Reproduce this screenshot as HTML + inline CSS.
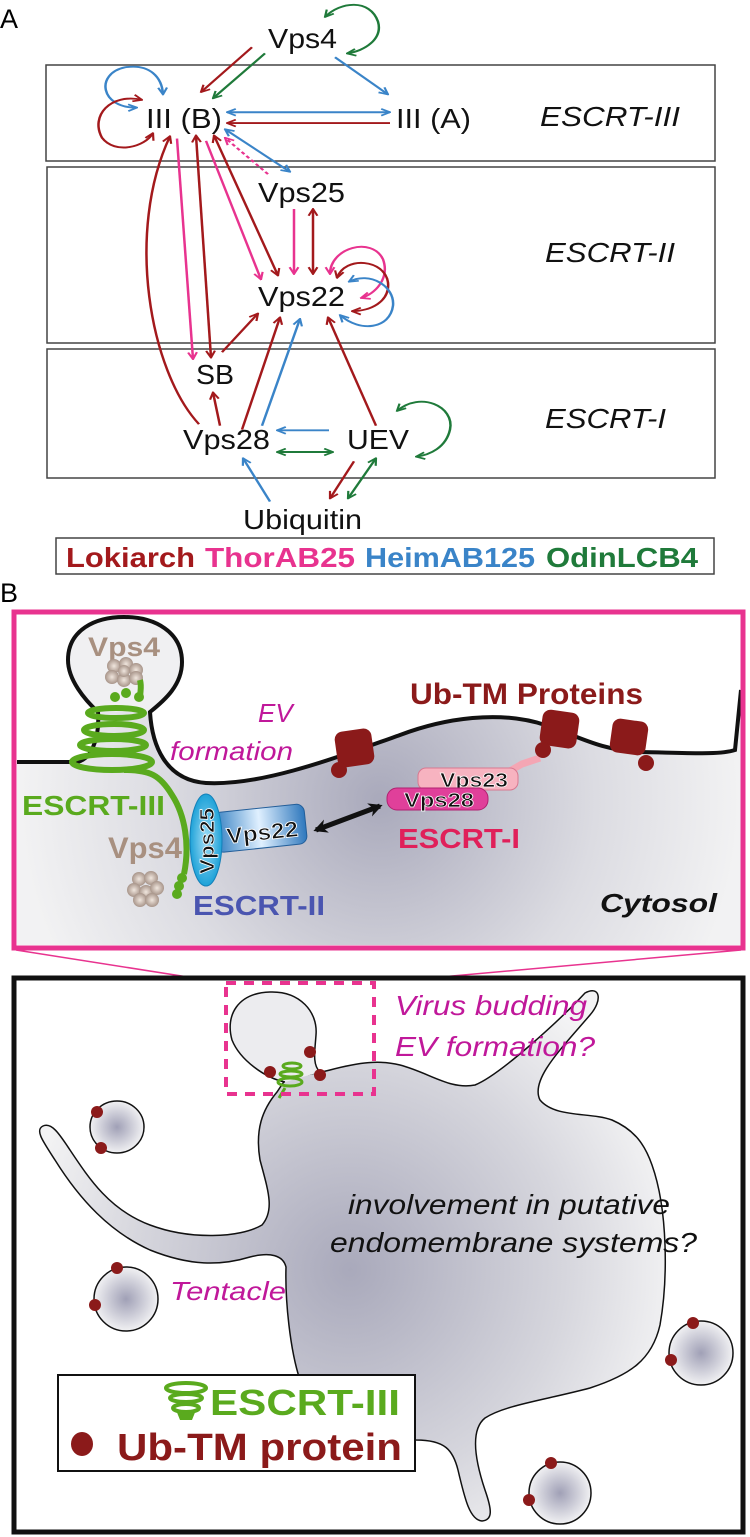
<!DOCTYPE html>
<html><head><meta charset="utf-8"><style>
html,body{margin:0;padding:0;background:#fff}
svg{display:block}
text{font-family:"Liberation Sans",Arial,sans-serif}
</style></head><body>
<svg width="750" height="1537" viewBox="0 0 750 1537" xmlns="http://www.w3.org/2000/svg">
<defs>
<marker id="mr" viewBox="0 0 10 10" refX="9" refY="5" markerWidth="11" markerHeight="11" markerUnits="userSpaceOnUse" orient="auto-start-reverse"><path d="M1,1 L9,5 L1,9" fill="none" stroke="#a3191c" stroke-width="2"/></marker>
<marker id="mp" viewBox="0 0 10 10" refX="9" refY="5" markerWidth="11" markerHeight="11" markerUnits="userSpaceOnUse" orient="auto-start-reverse"><path d="M1,1 L9,5 L1,9" fill="none" stroke="#e8338f" stroke-width="2"/></marker>
<marker id="mb" viewBox="0 0 10 10" refX="9" refY="5" markerWidth="11" markerHeight="11" markerUnits="userSpaceOnUse" orient="auto-start-reverse"><path d="M1,1 L9,5 L1,9" fill="none" stroke="#3a84c8" stroke-width="2"/></marker>
<marker id="mg" viewBox="0 0 10 10" refX="9" refY="5" markerWidth="11" markerHeight="11" markerUnits="userSpaceOnUse" orient="auto-start-reverse"><path d="M1,1 L9,5 L1,9" fill="none" stroke="#1f7a3a" stroke-width="2"/></marker>
<marker id="mk" viewBox="0 0 10 10" refX="8" refY="5" markerWidth="14" markerHeight="14" markerUnits="userSpaceOnUse" orient="auto-start-reverse"><path d="M0,0 L10,5 L0,10 L3,5Z" fill="#111"/></marker>
<radialGradient id="cyt" cx="380" cy="800" r="360" gradientUnits="userSpaceOnUse"><stop offset="0" stop-color="#a9a9bb"/><stop offset="0.6" stop-color="#dcdce2"/><stop offset="1" stop-color="#f2f2f3"/></radialGradient>
<radialGradient id="cell" cx="350" cy="1270" r="330" gradientUnits="userSpaceOnUse"><stop offset="0" stop-color="#a9a9bb"/><stop offset="0.65" stop-color="#d6d6dd"/><stop offset="1" stop-color="#f3f3f4"/></radialGradient>
<radialGradient id="ves"><stop offset="0" stop-color="#a0a0b6"/><stop offset="1" stop-color="#f1f1f3"/></radialGradient>
<linearGradient id="blue22" x1="0" y1="0" x2="1" y2="0"><stop offset="0" stop-color="#2f7cc0"/><stop offset="0.5" stop-color="#e0f0ff"/><stop offset="1" stop-color="#2f78bd"/></linearGradient>
<radialGradient id="blue25"><stop offset="0" stop-color="#9fdcf5"/><stop offset="1" stop-color="#1ea2d8"/></radialGradient>
<radialGradient id="hex"><stop offset="0" stop-color="#f0e6de"/><stop offset="1" stop-color="#a8958a"/></radialGradient>
</defs>

<!-- ===== PART A ===== -->
<text x="0" y="28" font-size="27">A</text>
<g fill="none" stroke="#444" stroke-width="1.5">
<rect x="46" y="65" width="669" height="96"/>
<rect x="47" y="167" width="668" height="176"/>
<rect x="47" y="349" width="668" height="129"/>
<rect x="56" y="538" width="658" height="36"/>
</g>
<g font-size="28" fill="#111">
<text x="268" y="48" textLength="69" lengthAdjust="spacingAndGlyphs">Vps4</text>
<text x="146" y="128" textLength="76" lengthAdjust="spacingAndGlyphs">III (B)</text>
<text x="396" y="128" textLength="75" lengthAdjust="spacingAndGlyphs">III (A)</text>
<text x="258" y="202" textLength="87" lengthAdjust="spacingAndGlyphs">Vps25</text>
<text x="258" y="306" textLength="87" lengthAdjust="spacingAndGlyphs">Vps22</text>
<text x="196" y="384" textLength="38" lengthAdjust="spacingAndGlyphs">SB</text>
<text x="183" y="449" textLength="87" lengthAdjust="spacingAndGlyphs">Vps28</text>
<text x="347" y="449" textLength="62" lengthAdjust="spacingAndGlyphs">UEV</text>
<text x="243" y="529" textLength="119" lengthAdjust="spacingAndGlyphs">Ubiquitin</text>
</g>
<g font-size="28" font-style="italic" fill="#111">
<text x="540" y="126" textLength="140" lengthAdjust="spacingAndGlyphs">ESCRT-III</text>
<text x="545" y="262" textLength="130" lengthAdjust="spacingAndGlyphs">ESCRT-II</text>
<text x="545" y="428" textLength="121" lengthAdjust="spacingAndGlyphs">ESCRT-I</text>
</g>
<g font-size="28" font-weight="bold">
<text x="66" y="567" fill="#a3191c" textLength="129" lengthAdjust="spacingAndGlyphs">Lokiarch</text>
<text x="205" y="567" fill="#e8338f" textLength="150" lengthAdjust="spacingAndGlyphs">ThorAB25</text>
<text x="365" y="567" fill="#3a84c8" textLength="170" lengthAdjust="spacingAndGlyphs">HeimAB125</text>
<text x="546" y="567" fill="#1f7a3a" textLength="152" lengthAdjust="spacingAndGlyphs">OdinLCB4</text>
</g>

<g transform="scale(1,0.774)" fill="none" stroke-width="2.5">
<path d="M325,22 C340,2 370,-2 378,28 C383,50 365,66 347,69" stroke="#1f7a3a" marker-start="url(#mg)" marker-end="url(#mg)"/>
<line x1="252" y1="61" x2="201" y2="119" stroke="#a3191c" marker-end="url(#mr)"/>
<line x1="265" y1="69" x2="213" y2="127" stroke="#1f7a3a" marker-end="url(#mg)"/>
<line x1="335" y1="74" x2="388" y2="122" stroke="#3a84c8" marker-end="url(#mb)"/>
<line x1="227" y1="145" x2="390" y2="145" stroke="#3a84c8" marker-start="url(#mb)" marker-end="url(#mb)"/>
<line x1="390" y1="159" x2="227" y2="159" stroke="#a3191c" marker-end="url(#mr)"/>
<path d="M137,139 C100,140 95,95 125,87 C150,82 162,100 163,122" stroke="#3a84c8" marker-start="url(#mb)" marker-end="url(#mb)"/>
<path d="M142,129 C110,120 90,150 102,178 C115,200 145,190 153,172" stroke="#a3191c" marker-start="url(#mr)" marker-end="url(#mr)"/>
<line x1="225" y1="167" x2="290" y2="222" stroke="#3a84c8" marker-start="url(#mb)" marker-end="url(#mb)"/>
<line x1="268" y1="225" x2="225" y2="178" stroke="#e8338f" stroke-dasharray="4,3" marker-end="url(#mp)"/>
<line x1="177" y1="179" x2="193" y2="464" stroke="#e8338f" marker-end="url(#mp)"/>
<line x1="196" y1="175" x2="211" y2="462" stroke="#a3191c" marker-start="url(#mr)" marker-end="url(#mr)"/>
<line x1="206" y1="182" x2="261" y2="361" stroke="#e8338f" marker-end="url(#mp)"/>
<line x1="214" y1="175" x2="278" y2="356" stroke="#a3191c" marker-start="url(#mr)" marker-end="url(#mr)"/>
<path d="M199,548 C150,480 125,300 170,176" stroke="#a3191c" marker-end="url(#mr)"/>
<line x1="294" y1="270" x2="294" y2="354" stroke="#e8338f" marker-end="url(#mp)"/>
<line x1="313" y1="270" x2="313" y2="354" stroke="#a3191c" marker-start="url(#mr)" marker-end="url(#mr)"/>
<path d="M330,354 C330,320 372,305 383,335 C390,360 375,380 361,385" stroke="#e8338f" marker-start="url(#mp)" marker-end="url(#mp)"/>
<path d="M337,359 C345,330 385,335 388,365 C390,390 370,402 352,402" stroke="#a3191c" marker-start="url(#mr)" marker-end="url(#mr)"/>
<path d="M349,364 C370,350 395,370 393,395 C390,425 360,430 340,407" stroke="#3a84c8" marker-start="url(#mb)" marker-end="url(#mb)"/>
<line x1="222" y1="455" x2="258" y2="405" stroke="#a3191c" marker-end="url(#mr)"/>
<line x1="242" y1="555" x2="280" y2="410" stroke="#a3191c" marker-end="url(#mr)"/>
<line x1="262" y1="550" x2="300" y2="412" stroke="#3a84c8" marker-end="url(#mb)"/>
<line x1="376" y1="550" x2="328" y2="410" stroke="#a3191c" marker-end="url(#mr)"/>
<line x1="220" y1="550" x2="213" y2="507" stroke="#a3191c" marker-end="url(#mr)"/>
<line x1="329" y1="556" x2="277" y2="556" stroke="#3a84c8" marker-end="url(#mb)"/>
<line x1="277" y1="584" x2="333" y2="584" stroke="#1f7a3a" marker-start="url(#mg)" marker-end="url(#mg)"/>
<path d="M397,531 C420,505 455,525 450,555 C446,578 430,588 416,590" stroke="#1f7a3a" marker-start="url(#mg)" marker-end="url(#mg)"/>
<line x1="270" y1="648" x2="243" y2="592" stroke="#3a84c8" marker-end="url(#mb)"/>
<line x1="354" y1="596" x2="330" y2="644" stroke="#a3191c" marker-end="url(#mr)"/>
<line x1="376" y1="592" x2="348" y2="644" stroke="#1f7a3a" marker-start="url(#mg)" marker-end="url(#mg)"/>
</g>

<!-- ===== PART B ===== -->
<text x="0" y="602" font-size="27">B</text>
<rect x="14" y="612" width="729" height="336" fill="#fff"/>
<path d="M17,762 L75,762 C90,762 100,740 98,712 C85,700 68,680 68,660 C68,630 95,617 124,617 C155,617 182,632 182,662 C182,685 165,700 150,712 C152,745 165,780 206,783 C260,786 330,760 400,735 C445,718 500,710 545,725 C580,737 600,750 640,752 C690,753 720,755 735,750 L741,690 L741,945 L17,945 Z" fill="url(#cyt)"/>
<path d="M68,660 C68,630 95,617 124,617 C155,617 182,632 182,662 C182,685 165,700 150,712 L98,712 C85,700 68,680 68,660Z" fill="#f0f0f2"/>
<path d="M17,762 L75,762 C90,762 100,740 98,712 C85,700 68,680 68,660 C68,630 95,617 124,617 C155,617 182,632 182,662 C182,685 165,700 150,712 C152,745 165,780 206,783 C260,786 330,760 400,735 C445,718 500,710 545,725 C580,737 600,750 640,752 C690,753 720,755 735,750 L741,690" fill="none" stroke="#111" stroke-width="4"/>
<rect x="14" y="612" width="729" height="336" fill="none" stroke="#e8338f" stroke-width="5"/>
<line x1="16" y1="950" x2="226" y2="983" stroke="#e8338f" stroke-width="1.5"/>
<line x1="741" y1="950" x2="374" y2="983" stroke="#e8338f" stroke-width="1.5"/>

<text x="88" y="656" font-size="27" font-weight="bold" fill="#a89080" textLength="72" lengthAdjust="spacingAndGlyphs">Vps4</text>
<g fill="url(#hex)"><circle cx="114" cy="666" r="7"/><circle cx="126" cy="664" r="7"/><circle cx="136" cy="670" r="7"/><circle cx="112" cy="677" r="7"/><circle cx="124" cy="680" r="7"/><circle cx="136" cy="678" r="7"/><circle cx="124" cy="671" r="6"/></g>
<g fill="none" stroke="#5aaa1e" stroke-width="6">
<ellipse cx="116" cy="713" rx="28" ry="5"/>
<ellipse cx="114" cy="730" rx="30" ry="6"/>
<ellipse cx="113" cy="745" rx="33" ry="6"/>
<ellipse cx="112" cy="762" rx="40" ry="8"/>
<path d="M124,770 C150,770 160,775 172,795 C185,815 190,845 184,874"/>
<path d="M140,700 C140,690 142,688 140,680"/>
</g>
<g fill="#5aaa1e"><circle cx="115" cy="697" r="5"/><circle cx="126" cy="693" r="5"/><circle cx="139" cy="697" r="5"/><circle cx="182" cy="878" r="5"/><circle cx="179" cy="886" r="5"/><circle cx="177" cy="894" r="5"/></g>
<text x="22" y="815" font-size="28" font-weight="bold" fill="#5aaa1e" textLength="143" lengthAdjust="spacingAndGlyphs">ESCRT-III</text>
<text x="108" y="858" font-size="30" font-weight="bold" fill="#a89080" textLength="74" lengthAdjust="spacingAndGlyphs">Vps4</text>
<g fill="url(#hex)"><circle cx="139" cy="879" r="7"/><circle cx="151" cy="878" r="7"/><circle cx="134" cy="890" r="7"/><circle cx="146" cy="892" r="7"/><circle cx="157" cy="888" r="7"/><circle cx="140" cy="900" r="7"/><circle cx="152" cy="900" r="7"/></g>
<g transform="rotate(-6 262 830)"><rect x="214" y="808" width="92" height="40" rx="8" fill="url(#blue22)" stroke="#245f9a" stroke-width="1"/>
<text x="226" y="840" font-size="22" font-weight="bold" fill="#111" stroke="#fff" stroke-width="0.8" textLength="72" lengthAdjust="spacingAndGlyphs">Vps22</text></g>
<ellipse cx="206" cy="840" rx="16" ry="46" fill="url(#blue25)" stroke="#1480b8" stroke-width="1"/>
<text transform="translate(214,874) rotate(-90)" font-size="20" font-weight="bold" fill="#111" stroke="#fff" stroke-width="0.7" textLength="66" lengthAdjust="spacingAndGlyphs">Vps25</text>
<text x="193" y="915" font-size="28" font-weight="bold" fill="#4a55b0" textLength="132" lengthAdjust="spacingAndGlyphs">ESCRT-II</text>
<line x1="316" y1="830" x2="380" y2="806" stroke="#111" stroke-width="5" marker-start="url(#mk)" marker-end="url(#mk)"/>
<path d="M508,772 L522,764 L540,758" stroke="#f4a6b4" stroke-width="7" fill="none"/>
<rect x="418" y="768" width="100" height="22" rx="8" fill="#f7b3c0" stroke="#d87890" stroke-width="1"/>
<text x="440" y="787" font-size="20" font-weight="bold" fill="#111" stroke="#fff" stroke-width="0.7" textLength="68" lengthAdjust="spacingAndGlyphs">Vps23</text>
<rect x="387" y="788" width="101" height="22" rx="10" fill="#e0409a" stroke="#b02070" stroke-width="1"/>
<text x="404" y="807" font-size="20" font-weight="bold" fill="#111" stroke="#fff" stroke-width="0.7" textLength="70" lengthAdjust="spacingAndGlyphs">Vps28</text>
<text x="398" y="848" font-size="28" font-weight="bold" fill="#e0205a" textLength="122" lengthAdjust="spacingAndGlyphs">ESCRT-I</text>
<text x="410" y="704" font-size="30" font-weight="bold" fill="#8b1a1a" textLength="233" lengthAdjust="spacingAndGlyphs">Ub-TM Proteins</text>
<g fill="#8b1a1a">
<rect x="336" y="730" width="37" height="36" rx="8" transform="rotate(-8 354 748)"/><circle cx="339" cy="770" r="8"/>
<rect x="541" y="711" width="37" height="36" rx="8" transform="rotate(8 559 729)"/><circle cx="543" cy="750" r="8"/>
<rect x="611" y="720" width="36" height="34" rx="8" transform="rotate(8 629 737)"/><circle cx="646" cy="763" r="8"/>
</g>
<text x="258" y="722" font-size="26" font-style="italic" fill="#c0189a">EV</text>
<text x="170" y="760" font-size="26" font-style="italic" fill="#c0189a" textLength="123" lengthAdjust="spacingAndGlyphs">formation</text>
<text x="600" y="912" font-size="26" font-style="italic" font-weight="bold" fill="#111" textLength="117" lengthAdjust="spacingAndGlyphs">Cytosol</text>

<rect x="14" y="978" width="729" height="554" fill="#fff" stroke="#111" stroke-width="5"/>
<path d="M285,1080 C300,1075 315,1074 330,1070 C360,1062 380,1060 400,1065 C430,1073 450,1090 475,1085 C500,1075 560,1020 585,993 C600,985 603,1000 590,1015 C560,1050 530,1080 540,1100 C555,1118 590,1112 612,1120 C635,1130 645,1145 652,1165 C668,1210 668,1280 660,1325 C652,1360 630,1375 590,1388 C545,1400 505,1405 485,1418 C470,1430 475,1460 485,1490 C492,1510 493,1520 482,1521 C470,1520 465,1500 458,1470 C453,1450 445,1440 416,1440 L300,1380 C290,1350 285,1300 286,1267 C283,1255 270,1252 250,1257 C220,1266 190,1266 150,1250 C110,1232 80,1200 55,1160 C42,1140 35,1130 43,1126 C52,1122 60,1135 70,1150 C90,1180 110,1210 150,1225 C190,1240 240,1238 262,1225 C275,1210 268,1190 260,1160 C255,1130 262,1110 277,1092 Z" fill="url(#cell)" stroke="#111" stroke-width="1.5"/>
<path d="M285,1082 C265,1078 240,1060 232,1040 C225,1015 238,993 270,992 C300,991 318,1012 316,1035 C315,1050 312,1065 320,1072" fill="#ececef" stroke="#111" stroke-width="1.5"/>
<g fill="none" stroke="#5aaa1e" stroke-width="3"><ellipse cx="292" cy="1066" rx="9" ry="3"/><ellipse cx="291" cy="1074" rx="11" ry="3"/><ellipse cx="290" cy="1082" rx="12" ry="4"/><path d="M285,1088 L279,1098"/></g>
<g fill="#8b1a1a"><circle cx="310" cy="1052" r="6"/><circle cx="270" cy="1072" r="6"/><circle cx="320" cy="1075" r="6"/></g>
<rect x="226" y="983" width="148" height="111" fill="none" stroke="#e8338f" stroke-width="4" stroke-dasharray="10,8"/>
<text x="395" y="1015" font-size="28" font-style="italic" fill="#c0189a" textLength="192" lengthAdjust="spacingAndGlyphs">Virus budding</text>
<text x="395" y="1056" font-size="28" font-style="italic" fill="#c0189a" textLength="200" lengthAdjust="spacingAndGlyphs">EV formation?</text>
<g stroke="#111" stroke-width="1.5" fill="url(#ves)">
<ellipse cx="117" cy="1127" rx="27" ry="26"/>
<ellipse cx="126" cy="1299" rx="32" ry="32"/>
<ellipse cx="701" cy="1353" rx="32" ry="32"/>
<ellipse cx="560" cy="1493" rx="31" ry="31"/>
</g>
<g fill="#8b1a1a">
<circle cx="97" cy="1112" r="6"/><circle cx="101" cy="1148" r="6"/>
<circle cx="117" cy="1268" r="6"/><circle cx="95" cy="1305" r="6"/>
<circle cx="693" cy="1323" r="6"/><circle cx="671" cy="1360" r="6"/>
<circle cx="551" cy="1463" r="6"/><circle cx="529" cy="1500" r="6"/>
</g>
<text x="348" y="1214" font-size="28" font-style="italic" fill="#111" textLength="322" lengthAdjust="spacingAndGlyphs">involvement in putative</text>
<text x="330" y="1252" font-size="28" font-style="italic" fill="#111" textLength="367" lengthAdjust="spacingAndGlyphs">endomembrane systems?</text>
<text x="170" y="1300" font-size="26" font-style="italic" fill="#c0189a" textLength="116" lengthAdjust="spacingAndGlyphs">Tentacle</text>
<rect x="58" y="1375" width="357" height="96" fill="#fff" stroke="#111" stroke-width="2"/>
<g fill="none" stroke="#5aaa1e" stroke-width="4"><ellipse cx="186" cy="1388" rx="20" ry="5"/><ellipse cx="186" cy="1398" rx="16" ry="4"/><ellipse cx="186" cy="1408" rx="13" ry="4"/></g>
<path d="M176,1410 L196,1410 L192,1420 L180,1420Z" fill="#5aaa1e"/>
<text x="210" y="1415" font-size="36" font-weight="bold" fill="#5aaa1e" textLength="190" lengthAdjust="spacingAndGlyphs">ESCRT-III</text>
<ellipse cx="82" cy="1444" rx="11" ry="12" fill="#8b1a1a"/>
<text x="117" y="1460" font-size="38" font-weight="bold" fill="#8b1a1a" textLength="285" lengthAdjust="spacingAndGlyphs">Ub-TM protein</text>
</svg>
</body></html>
